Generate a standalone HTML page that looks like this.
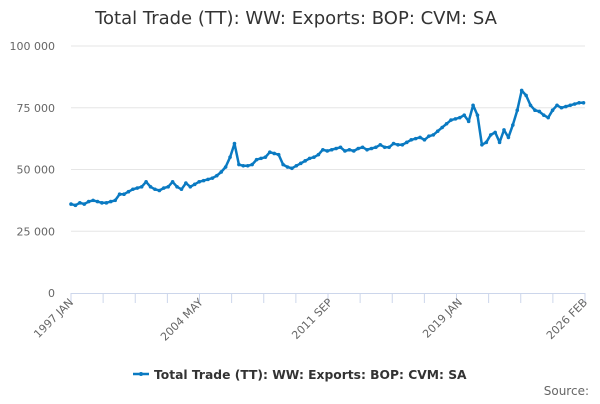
<!DOCTYPE html>
<html><head><meta charset="utf-8"><style>
body{margin:0;background:#fff;width:600px;height:400px;overflow:hidden;font-family:"DejaVu Sans","Liberation Sans",sans-serif}
</style></head><body>
<svg width="600" height="400">
<text x="296" y="24" text-anchor="middle" font-size="18" fill="#333">Total Trade (TT): WW: Exports: BOP: CVM: SA</text>
<g id="grid"></g>
<g id="xaxis"></g>
<g id="series"></g>
<g>
<line x1="133" y1="374" x2="149" y2="374" stroke="#0a7ac2" stroke-width="2.5"/>
<circle cx="141" cy="374" r="2" fill="#0a7ac2"/>
<text x="154" y="379" font-size="12.3" font-weight="bold" fill="#333">Total Trade (TT): WW: Exports: BOP: CVM: SA</text>
</g>
<text x="589" y="395" text-anchor="end" font-size="12" fill="#666">Source:</text>
</svg>
<script>
const yTicks=[0,25000,50000,75000,100000];
const yTickLabels=["0","25 000","50 000","75 000","100 000"];
const xTickLabels=["1997 JAN","2004 MAY","2011 SEP","2019 JAN","2026 FEB"];
const xTickMonths=[0,88,176,264,349];
// quarterly samples: month index from 1997 JAN
const months=[];
const values=[36,35.5,36.5,36, 37,37.5,37,36.5, 36.5,37,37.5,40, 40,41,42,42.5, 43,45,43,42, 41.5,42.5,43,45, 43,42,44.5,43, 44,45,45.5,46,
46.5,47.5,49,51, 55,60.5,52,51.5, 51.5,52,54,54.5, 55,57,56.5,56, 52,51,50.5,51.5, 52.5,53.5,54.5,55, 56,58,57.5,58, 58.5,59,57.5,58,
57.5,58.5,59,58, 58.5,59,60,59, 59,60.5,60,60, 61,62,62.5,63, 62,63.5,64,65.5, 67,68.5,70,70.5, 71,72,69.5,76, 72,60,61,64,
65,61,66,63, 68,74,82,80, 76,74,73.5,72, 71,74,76,75, 75.5,76,76.5,77, 77].map(v=>v*1000);
for(let i=0;i<values.length;i++)months.push(Math.min(i*3,349));
const X0=71,X1=585,Y0=293,Y1=46;
const xs=m=>X0+(X1-X0)*m/349;
const ys=v=>Y0-(Y0-Y1)*v/100000;
const NS="http://www.w3.org/2000/svg";
function mk(t,a,p){const e=document.createElementNS(NS,t);for(const k in a)e.setAttribute(k,a[k]);p.appendChild(e);return e;}
const grid=document.getElementById('grid');
yTicks.forEach((v,i)=>{
 if(v>0){const l=mk('line',{x1:X0,x2:X1,y1:ys(v),y2:ys(v),stroke:'#e6e6e6'},grid);
 
 }
 const t=mk('text',{x:55,y:ys(v)+4,'text-anchor':'end','font-size':11,fill:'#666'},grid);
 
 
 t.textContent=yTickLabels[i];
});
const xa=document.getElementById('xaxis');
mk('line',{x1:X0,x2:X1,y1:Y0+0.5,y2:Y0+0.5,stroke:'#ccd6eb'},xa);
for(let k=0;k<=16;k++){const x=X0+(X1-X0)*k/16;
 const tk=mk('line',{x1:x,x2:x,y1:Y0,y2:Y0+10,stroke:'#ccd6eb'},xa);
 
 }
xTickLabels.forEach((s,i)=>{const x=xs(xTickMonths[i]);
 const t=mk('text',{x:x+3,y:Y0+10,'text-anchor':'end','font-size':11,fill:'#666',transform:`rotate(-45 ${x+3} ${Y0+10})`},xa);
 
 
 t.textContent=s;});
const sg=document.getElementById('series');
const pts=values.map((v,i)=>xs(months[i]).toFixed(1)+','+ys(v).toFixed(1)).join(' ');
const pl=mk('polyline',{points:pts,fill:'none',stroke:'#0a7ac2','stroke-width':2.5,'stroke-linejoin':'round'},sg);


values.forEach((v,i)=>{const c=mk('circle',{cx:xs(months[i]),cy:ys(v),r:1.8,fill:'#0a7ac2'},sg);
 
 });
</script>
</body></html>
